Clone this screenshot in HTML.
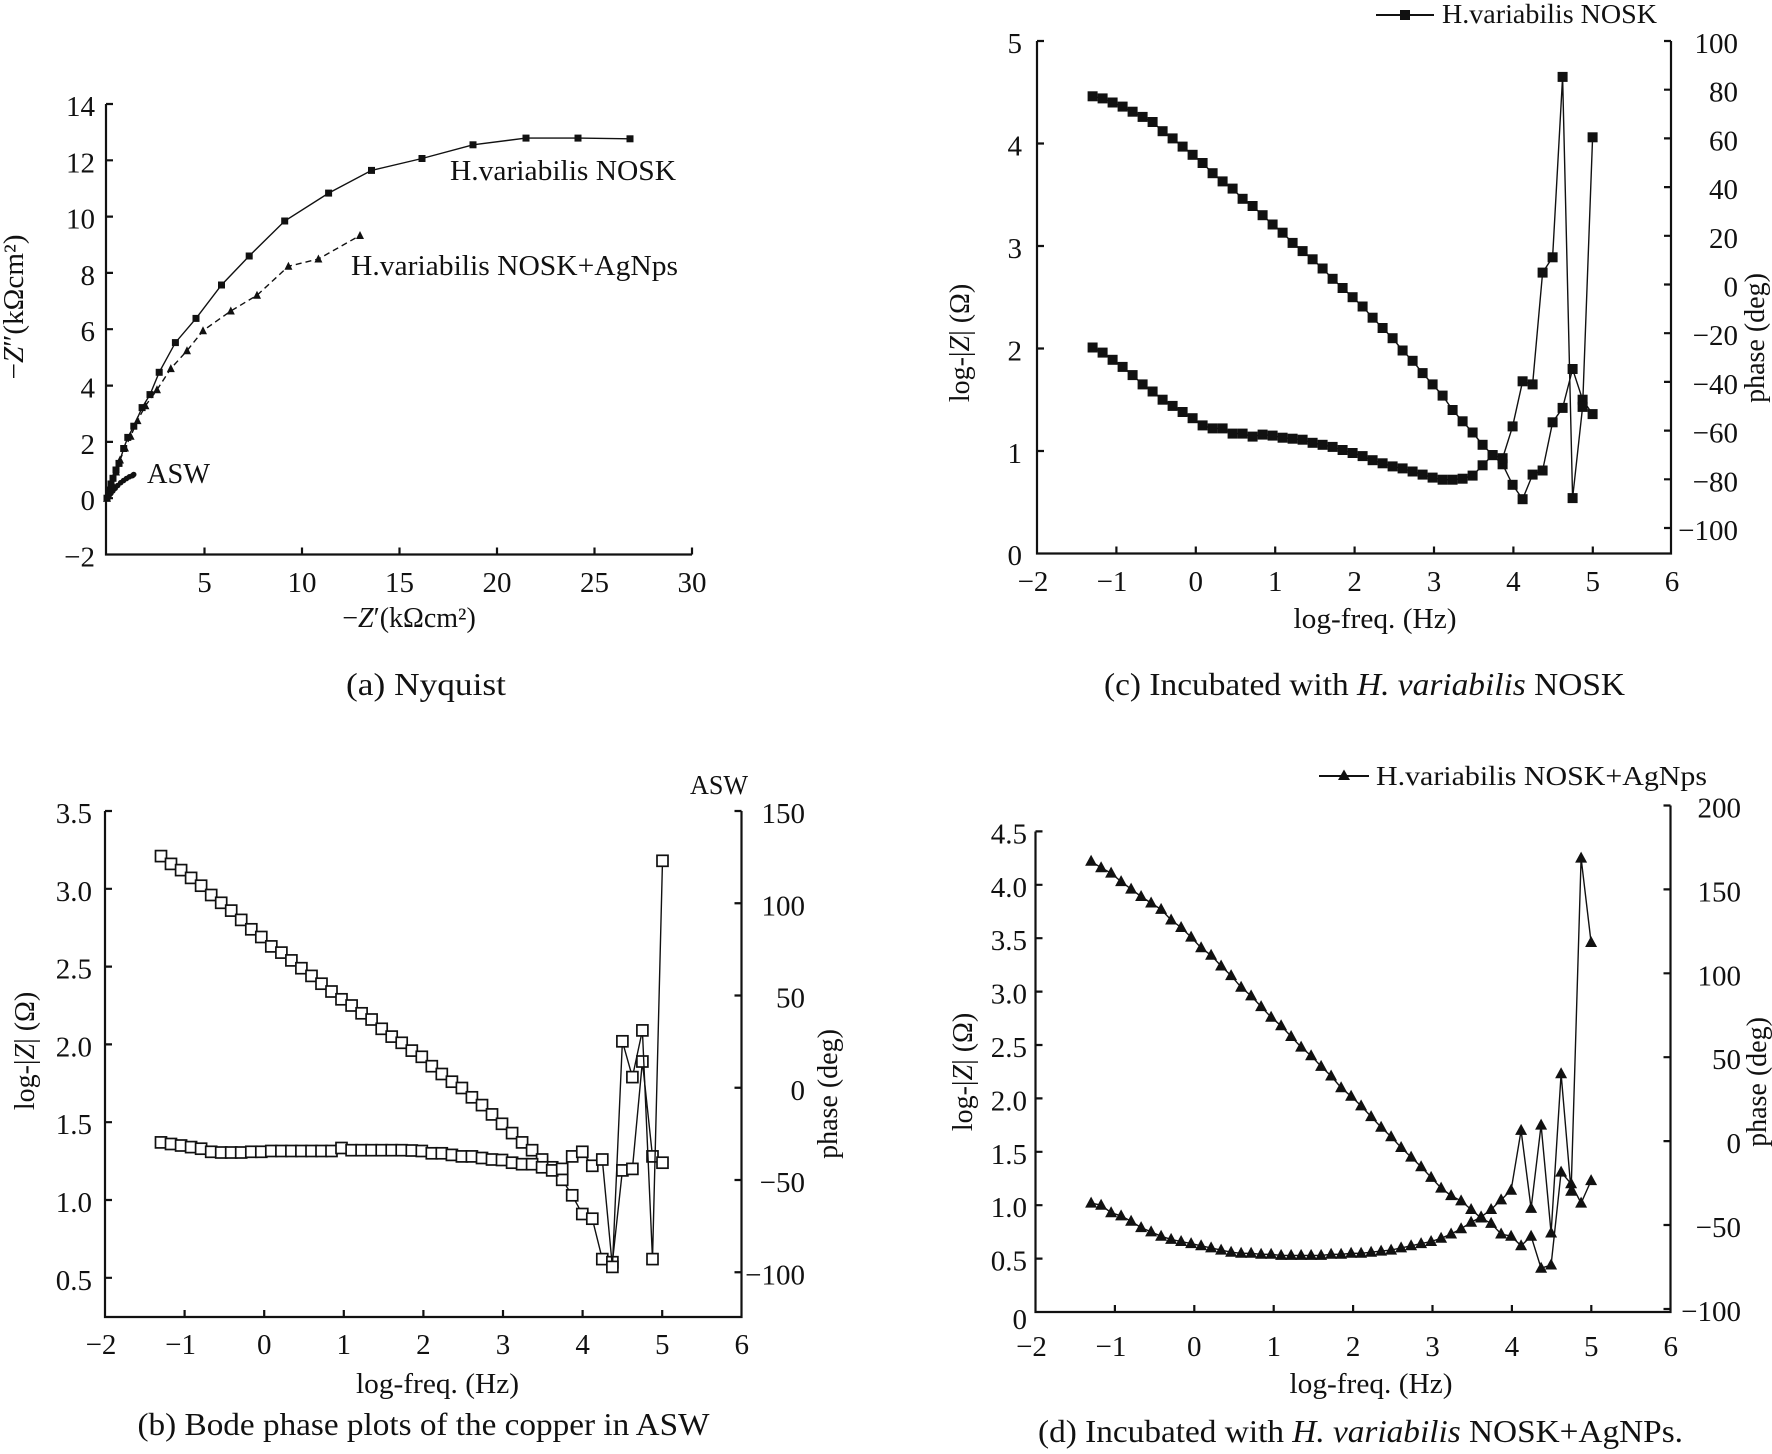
<!DOCTYPE html>
<html><head><meta charset="utf-8"><style>
html,body{margin:0;padding:0;background:#fff;}
svg{display:block;}
text{font-family:"Liberation Serif","Times New Roman",serif;fill:#111;}
</style></head><body>
<svg width="1772" height="1454" viewBox="0 0 1772 1454" xmlns="http://www.w3.org/2000/svg">
<defs>
<marker id="mA" markerUnits="userSpaceOnUse" viewBox="0 0 9 9" markerWidth="9" markerHeight="9" refX="4.5" refY="4.5"><rect x="1" y="1" width="7" height="7" fill="#111"/></marker>
<marker id="tA" markerUnits="userSpaceOnUse" viewBox="0 0 10 10" markerWidth="10" markerHeight="10" refX="5" refY="5.5"><path d="M5 1 L9 9 L1 9Z" fill="#111"/></marker>
<marker id="cA" markerUnits="userSpaceOnUse" viewBox="0 0 7 7" markerWidth="7" markerHeight="7" refX="3.5" refY="3.5"><circle cx="3.5" cy="3.5" r="2.8" fill="#111"/></marker>
<marker id="sC" markerUnits="userSpaceOnUse" viewBox="0 0 12 12" markerWidth="12" markerHeight="12" refX="6" refY="6"><rect x="1" y="1" width="10" height="10" fill="#111"/></marker>
<marker id="sB" markerUnits="userSpaceOnUse" viewBox="0 0 14 14" markerWidth="14" markerHeight="14" refX="7" refY="7"><rect x="1.5" y="1.5" width="11" height="11" fill="#fff" stroke="#111" stroke-width="1.7"/></marker>
<marker id="tD" markerUnits="userSpaceOnUse" viewBox="0 0 14 13" markerWidth="14" markerHeight="13" refX="7" refY="7.5"><path d="M7 1 L13 12 L1 12Z" fill="#111"/></marker>
</defs>

<!-- ================= Panel (a) ================= -->
<path d="M106 104 V554.5 H692 M106 104 h7 M106 160.3 h7 M106 216.6 h7 M106 272.9 h7 M106 329.2 h7 M106 385.6 h7 M106 441.9 h7 M106 498.2 h7 M204.5 554.5 v-7 M302 554.5 v-7 M399.5 554.5 v-7 M497 554.5 v-7 M594.5 554.5 v-7 M692 554.5 v-7" fill="none" stroke="#111" stroke-width="2.2"/>
<g font-size="29" text-anchor="end">
<text x="95" y="116">14</text><text x="95" y="172.3">12</text><text x="95" y="228.6">10</text><text x="95" y="284.9">8</text><text x="95" y="341.2">6</text><text x="95" y="397.6">4</text><text x="95" y="453.9">2</text><text x="95" y="510.2">0</text><text x="95" y="566.5">−2</text>
</g>
<g font-size="29" text-anchor="middle">
<text x="204.5" y="592">5</text><text x="302" y="592">10</text><text x="399.5" y="592">15</text><text x="497" y="592">20</text><text x="594.5" y="592">25</text><text x="692" y="592">30</text>
</g>
<g font-size="28" text-anchor="middle">
<text x="409" y="627">−<tspan font-style="italic">Z</tspan>′(kΩcm²)</text>
<text transform="translate(23,307) rotate(-90)" textLength="145" lengthAdjust="spacingAndGlyphs">−<tspan font-style="italic">Z</tspan>″(kΩcm²)</text>
</g>
<polyline fill="none" stroke="#111" stroke-width="1.4" marker-start="url(#mA)" marker-mid="url(#mA)" marker-end="url(#mA)" points="107,498.2 109,490 111,484 113,478.3 116,470 119,463.4 123.7,448.5 127.8,437.4 133.8,426.2 142.1,407.6 150,394.6 159.2,372.3 175.4,342.6 196,318.4 221.5,285 249.2,256 284.7,221 328.6,193.1 371.5,170.4 422,158.5 473,144.8 526,138.1 578,138.1 630,138.8"/>
<polyline fill="none" stroke="#111" stroke-width="1.4" stroke-dasharray="6,4" marker-start="url(#tA)" marker-mid="url(#tA)" marker-end="url(#tA)" points="107,498.2 109,492 112,483 116,472 120,460 125,448 130.6,436.3 137.5,420.6 145.4,405.8 157,389.8 170.8,368.6 187,350.7 203,330.7 230.8,311 257,295.3 288.4,266.3 318.4,259 360,235.5"/>
<polyline fill="none" stroke="#111" stroke-width="1.8" marker-start="url(#cA)" marker-mid="url(#cA)" marker-end="url(#cA)" points="107,498.2 109,496 110.9,493.4 112.9,490.9 115.2,488.3 117.7,485.5 120.7,482.7 123.6,480.5 126.5,478.5 129.4,476.8 132.4,475.7 133.7,474.5"/>
<text x="450" y="180" font-size="28" textLength="226" lengthAdjust="spacingAndGlyphs">H.variabilis NOSK</text>
<text x="351" y="275" font-size="28" textLength="327" lengthAdjust="spacingAndGlyphs">H.variabilis NOSK+AgNps</text>
<text x="147" y="483" font-size="28" textLength="63" lengthAdjust="spacingAndGlyphs">ASW</text>
<text x="346" y="695" font-size="32" textLength="160" lengthAdjust="spacingAndGlyphs">(a) Nyquist</text>

<!-- ================= Panel (c) ================= -->
<path d="M1037 41 V553.5 H1671 V41 M1037 451 h7 M1037 348.5 h7 M1037 246 h7 M1037 143.5 h7 M1037 41 h7 M1671 41 h-7 M1671 89.7 h-7 M1671 138.4 h-7 M1671 187.1 h-7 M1671 235.8 h-7 M1671 284.5 h-7 M1671 333.2 h-7 M1671 381.9 h-7 M1671 430.6 h-7 M1671 479.3 h-7 M1671 528 h-7 M1116.4 553.5 v-7 M1195.8 553.5 v-7 M1275.2 553.5 v-7 M1354.6 553.5 v-7 M1434 553.5 v-7 M1513.4 553.5 v-7 M1592.8 553.5 v-7" fill="none" stroke="#111" stroke-width="2.2"/>
<g font-size="29" text-anchor="end">
<text x="1022" y="53">5</text><text x="1022" y="155.5">4</text><text x="1022" y="258">3</text><text x="1022" y="360.5">2</text><text x="1022" y="463">1</text><text x="1022" y="565">0</text>
<text x="1738" y="53">100</text><text x="1738" y="101.7">80</text><text x="1738" y="150.4">60</text><text x="1738" y="199.1">40</text><text x="1738" y="247.8">20</text><text x="1738" y="296.5">0</text><text x="1738" y="345.2">−20</text><text x="1738" y="393.9">−40</text><text x="1738" y="442.6">−60</text><text x="1738" y="491.3">−80</text><text x="1738" y="540">−100</text>
</g>
<g font-size="29" text-anchor="middle">
<text x="1033" y="591">−2</text><text x="1112" y="591">−1</text><text x="1195.8" y="591">0</text><text x="1275.2" y="591">1</text><text x="1354.6" y="591">2</text><text x="1434" y="591">3</text><text x="1513.4" y="591">4</text><text x="1592.8" y="591">5</text><text x="1672" y="591">6</text>
</g>
<g font-size="28" text-anchor="middle">
<text x="1375" y="628" textLength="163" lengthAdjust="spacingAndGlyphs">log-freq. (Hz)</text>
<text transform="translate(969,343) rotate(-90)">log-|<tspan font-style="italic">Z</tspan>| (Ω)</text>
<text transform="translate(1764,338) rotate(-90)">phase (deg)</text>
</g>
<polyline fill="none" stroke="#111" stroke-width="1.4" marker-start="url(#sC)" marker-mid="url(#sC)" marker-end="url(#sC)" points="1092.6,96.3 1102.6,98.4 1112.6,102.5 1122.6,106.6 1132.6,111.7 1142.6,116.9 1152.6,122.0 1162.6,131.2 1172.6,138.4 1182.6,146.6 1192.6,154.8 1202.6,163.0 1212.6,173.2 1222.6,181.4 1232.6,188.6 1242.6,198.8 1252.6,206.0 1262.6,215.2 1272.6,224.5 1282.6,232.7 1292.6,242.9 1302.6,251.1 1312.6,259.3 1322.6,268.5 1332.6,278.8 1342.6,288.0 1352.6,297.2 1362.6,306.5 1372.6,317.7 1382.6,328.0 1392.6,338.2 1402.6,350.5 1412.6,360.8 1422.6,373.1 1432.6,384.4 1442.6,395.6 1452.6,410.0 1462.6,421.3 1472.6,432.5 1482.6,444.8 1492.6,455.1 1502.6,464.3 1512.6,484.8 1522.6,499.2 1532.6,474.6 1542.6,470.5 1552.6,422.3 1562.6,407.9 1572.6,369.0 1582.6,399.7 1592.6,414.1"/>
<polyline fill="none" stroke="#111" stroke-width="1.4" marker-start="url(#sC)" marker-mid="url(#sC)" marker-end="url(#sC)" points="1092.6,347.5 1102.6,352.6 1112.6,359.8 1122.6,366.9 1132.6,375.1 1142.6,384.4 1152.6,391.5 1162.6,399.7 1172.6,405.9 1182.6,412.0 1192.6,418.2 1202.6,425.4 1212.6,428.4 1222.6,428.4 1232.6,433.6 1242.6,433.6 1252.6,436.6 1262.6,434.6 1272.6,435.6 1282.6,437.7 1292.6,438.7 1302.6,439.7 1312.6,442.8 1322.6,444.8 1332.6,446.9 1342.6,450.0 1352.6,453.0 1362.6,456.1 1372.6,460.2 1382.6,463.3 1392.6,466.4 1402.6,468.4 1412.6,471.5 1422.6,474.6 1432.6,477.6 1442.6,479.7 1452.6,479.7 1462.6,478.7 1472.6,475.6 1482.6,465.3 1492.6,455.1 1502.6,458.2 1512.6,426.4 1522.6,381.3 1532.6,384.4 1542.6,272.6 1552.6,257.3 1562.6,76.9 1572.6,498.1 1582.6,406.9 1592.6,137.3"/>
<path d="M1376 15 H1434" stroke="#111" stroke-width="2"/>
<rect x="1400" y="10" width="10" height="10" fill="#111"/>
<text x="1442" y="23" font-size="27" textLength="215" lengthAdjust="spacingAndGlyphs">H.variabilis NOSK</text>
<text x="1104" y="695" font-size="32" textLength="521" lengthAdjust="spacingAndGlyphs">(c) Incubated with <tspan font-style="italic">H. variabilis</tspan> NOSK</text>

<!-- ================= Panel (b) ================= -->
<path d="M105 811 V1317 H741.5 V811 M105 1277.8 h7 M105 1200 h7 M105 1122.2 h7 M105 1044.4 h7 M105 966.6 h7 M105 888.8 h7 M105 811 h7 M741.5 811 h-7 M741.5 903.25 h-7 M741.5 995.5 h-7 M741.5 1087.75 h-7 M741.5 1180 h-7 M741.5 1272.25 h-7 M184.6 1317 v-7 M264.2 1317 v-7 M343.8 1317 v-7 M423.4 1317 v-7 M503 1317 v-7 M582.6 1317 v-7 M662.2 1317 v-7" fill="none" stroke="#111" stroke-width="2.2"/>
<g font-size="29" text-anchor="end">
<text x="92" y="823">3.5</text><text x="92" y="900.8">3.0</text><text x="92" y="978.6">2.5</text><text x="92" y="1056.4">2.0</text><text x="92" y="1134.2">1.5</text><text x="92" y="1212">1.0</text><text x="92" y="1289.8">0.5</text>
<text x="805" y="823">150</text><text x="805" y="915.25">100</text><text x="805" y="1007.5">50</text><text x="805" y="1099.75">0</text><text x="805" y="1192">−50</text><text x="805" y="1284.25">−100</text>
</g>
<g font-size="29" text-anchor="middle">
<text x="101" y="1354">−2</text><text x="180.6" y="1354">−1</text><text x="264.2" y="1354">0</text><text x="343.8" y="1354">1</text><text x="423.4" y="1354">2</text><text x="503" y="1354">3</text><text x="582.6" y="1354">4</text><text x="662.2" y="1354">5</text><text x="741.8" y="1354">6</text>
</g>
<g font-size="28" text-anchor="middle">
<text x="437.5" y="1393" textLength="163" lengthAdjust="spacingAndGlyphs">log-freq. (Hz)</text>
<text transform="translate(34,1051) rotate(-90)">log-|<tspan font-style="italic">Z</tspan>| (Ω)</text>
<text transform="translate(837,1094) rotate(-90)">phase (deg)</text>
</g>
<text x="690" y="794" font-size="27" textLength="58" lengthAdjust="spacingAndGlyphs">ASW</text>
<polyline fill="none" stroke="#111" stroke-width="1.4" marker-start="url(#sB)" marker-mid="url(#sB)" marker-end="url(#sB)" points="161.0,856.1 171.0,863.9 181.1,870.1 191.1,877.9 201.1,885.7 211.2,895.0 221.2,902.8 231.2,910.6 241.2,919.9 251.3,929.3 261.3,937.0 271.3,946.4 281.4,952.6 291.4,960.4 301.4,968.2 311.5,975.9 321.5,983.7 331.5,991.5 341.5,999.3 351.6,1005.5 361.6,1013.3 371.6,1019.5 381.7,1028.8 391.7,1036.6 401.7,1042.8 411.8,1050.6 421.8,1056.8 431.8,1066.2 441.8,1074.0 451.9,1081.7 461.9,1088.0 471.9,1097.3 482.0,1105.1 492.0,1114.4 502.0,1123.8 512.1,1133.1 522.1,1142.4 532.1,1150.2 542.1,1159.5 552.2,1167.3 562.2,1179.8 572.2,1195.3 582.3,1214.0 592.3,1218.7 602.3,1259.1 612.4,1262.2 622.4,1170.4 632.4,1168.9 642.4,1061.5 652.5,1156.4 662.5,1162.7"/>
<polyline fill="none" stroke="#111" stroke-width="1.4" marker-start="url(#sB)" marker-mid="url(#sB)" marker-end="url(#sB)" points="161.0,1142.4 171.0,1144.0 181.1,1145.5 191.1,1147.1 201.1,1148.7 211.2,1151.8 221.2,1152.5 231.2,1152.5 241.2,1152.5 251.3,1151.8 261.3,1151.8 271.3,1151.0 281.4,1151.0 291.4,1151.0 301.4,1151.0 311.5,1151.0 321.5,1151.0 331.5,1151.0 341.5,1148.0 351.6,1150.2 361.6,1150.2 371.6,1150.2 381.7,1150.2 391.7,1150.2 401.7,1150.2 411.8,1150.5 421.8,1151.0 431.8,1153.3 441.8,1153.3 451.9,1154.9 461.9,1156.4 471.9,1156.4 482.0,1158.0 492.0,1159.5 502.0,1160.0 512.1,1162.7 522.1,1164.2 532.1,1164.2 542.1,1167.3 552.2,1170.4 562.2,1168.9 572.2,1156.4 582.3,1151.8 592.3,1165.8 602.3,1159.5 612.4,1266.9 622.4,1041.3 632.4,1077.1 642.4,1030.4 652.5,1259.1 662.5,860.8"/>
<text x="137.5" y="1435" font-size="32" textLength="572" lengthAdjust="spacingAndGlyphs">(b) Bode phase plots of the copper in ASW</text>

<!-- ================= Panel (d) ================= -->
<path d="M1035.5 831.5 V1312 H1670.5 V805.5 M1035.5 1258.6 h7 M1035.5 1205.2 h7 M1035.5 1151.8 h7 M1035.5 1098.4 h7 M1035.5 1045 h7 M1035.5 991.6 h7 M1035.5 938.2 h7 M1035.5 884.8 h7 M1035.5 831.4 h7 M1670.5 805.5 h-7 M1670.5 889.4 h-7 M1670.5 973.3 h-7 M1670.5 1057.2 h-7 M1670.5 1141.1 h-7 M1670.5 1225 h-7 M1670.5 1309 h-7 M1114.9 1312 v-7 M1194.3 1312 v-7 M1273.7 1312 v-7 M1353.1 1312 v-7 M1432.5 1312 v-7 M1511.9 1312 v-7 M1591.3 1312 v-7" fill="none" stroke="#111" stroke-width="2.2"/>
<g font-size="29" text-anchor="end">
<text x="1027" y="843.4">4.5</text><text x="1027" y="896.8">4.0</text><text x="1027" y="950.2">3.5</text><text x="1027" y="1003.6">3.0</text><text x="1027" y="1057">2.5</text><text x="1027" y="1110.4">2.0</text><text x="1027" y="1163.8">1.5</text><text x="1027" y="1217.2">1.0</text><text x="1027" y="1270.6">0.5</text><text x="1027" y="1329">0</text>
<text x="1741" y="817.5">200</text><text x="1741" y="901.4">150</text><text x="1741" y="985.3">100</text><text x="1741" y="1069.2">50</text><text x="1741" y="1153.1">0</text><text x="1741" y="1237">−50</text><text x="1741" y="1321">−100</text>
</g>
<g font-size="29" text-anchor="middle">
<text x="1031.5" y="1356">−2</text><text x="1110.9" y="1356">−1</text><text x="1194.3" y="1356">0</text><text x="1273.7" y="1356">1</text><text x="1353.1" y="1356">2</text><text x="1432.5" y="1356">3</text><text x="1511.9" y="1356">4</text><text x="1591.3" y="1356">5</text><text x="1670.7" y="1356">6</text>
</g>
<g font-size="28" text-anchor="middle">
<text x="1371" y="1393" textLength="163" lengthAdjust="spacingAndGlyphs">log-freq. (Hz)</text>
<text transform="translate(972,1072) rotate(-90)">log-|<tspan font-style="italic">Z</tspan>| (Ω)</text>
<text transform="translate(1766,1082) rotate(-90)">phase (deg)</text>
</g>
<polyline fill="none" stroke="#111" stroke-width="1.4" marker-start="url(#tD)" marker-mid="url(#tD)" marker-end="url(#tD)" points="1091.1,861.3 1101.1,867.7 1111.1,873.1 1121.1,881.6 1131.1,889.1 1141.1,896.5 1151.1,903.0 1161.1,909.4 1171.1,920.0 1181.1,927.5 1191.1,937.1 1201.1,947.8 1211.1,955.3 1221.1,966.0 1231.1,975.6 1241.1,987.3 1251.1,995.9 1261.1,1006.6 1271.1,1017.2 1281.1,1025.8 1291.1,1036.5 1301.1,1047.1 1311.1,1055.7 1321.1,1066.4 1331.1,1076.0 1341.1,1087.7 1351.1,1096.3 1361.1,1105.9 1371.1,1116.6 1381.1,1127.2 1391.1,1136.8 1401.1,1147.5 1411.1,1157.1 1421.1,1166.8 1431.1,1177.4 1441.1,1188.1 1451.1,1195.6 1461.1,1200.9 1471.1,1209.5 1481.1,1218.0 1491.1,1223.4 1501.1,1234.0 1511.1,1236.2 1521.1,1245.8 1531.1,1236.2 1541.1,1268.2 1551.1,1265.0 1561.1,1172.1 1571.1,1183.8 1581.1,1203.1 1591.1,1180.6"/>
<polyline fill="none" stroke="#111" stroke-width="1.4" marker-start="url(#tD)" marker-mid="url(#tD)" marker-end="url(#tD)" points="1091.1,1203.1 1101.1,1205.2 1111.1,1212.7 1121.1,1215.9 1131.1,1221.2 1141.1,1227.6 1151.1,1231.9 1161.1,1236.2 1171.1,1239.4 1181.1,1241.5 1191.1,1243.6 1201.1,1245.8 1211.1,1247.9 1221.1,1250.1 1231.1,1252.2 1241.1,1253.3 1251.1,1253.3 1261.1,1254.3 1271.1,1254.3 1281.1,1255.4 1291.1,1255.4 1301.1,1255.4 1311.1,1255.4 1321.1,1255.4 1331.1,1254.3 1341.1,1254.3 1351.1,1253.3 1361.1,1253.3 1371.1,1252.2 1381.1,1251.1 1391.1,1250.1 1401.1,1247.9 1411.1,1245.8 1421.1,1243.6 1431.1,1241.5 1441.1,1238.3 1451.1,1234.0 1461.1,1228.7 1471.1,1222.3 1481.1,1216.9 1491.1,1209.5 1501.1,1199.9 1511.1,1190.2 1521.1,1130.4 1531.1,1208.4 1541.1,1125.1 1551.1,1233.0 1561.1,1073.8 1571.1,1191.3 1581.1,858.1 1591.1,942.5"/>
<path d="M1319 776 H1369" stroke="#111" stroke-width="2"/>
<path d="M1344 769.5 L1350 780 L1338 780Z" fill="#111"/>
<text x="1376" y="785" font-size="27" textLength="331" lengthAdjust="spacingAndGlyphs">H.variabilis NOSK+AgNps</text>
<text x="1038" y="1442" font-size="32" textLength="645" lengthAdjust="spacingAndGlyphs">(d) Incubated with <tspan font-style="italic">H. variabilis</tspan> NOSK+AgNPs.</text>
</svg>
</body></html>
